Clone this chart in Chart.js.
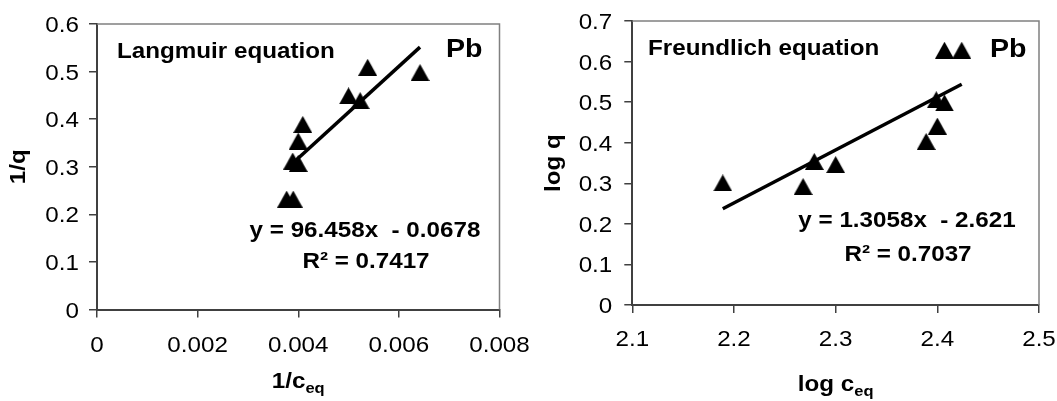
<!DOCTYPE html>
<html>
<head>
<meta charset="utf-8">
<script src="https://cdn.jsdelivr.net/npm/chart.js@4.4.0/dist/chart.umd.min.js"></script>
<style>
  body { margin: 0; background: #fff; }
  #wrap { position: relative; width: 1057px; height: 401px; }
  #langmuir { position: absolute; left: 0; top: 0; }
  #freundlich { position: absolute; left: 527px; top: 0; }
</style>
</head>
<body>
<div id="wrap">
  <canvas id="langmuir" width="545" height="401"></canvas>
  <canvas id="freundlich" width="530" height="401"></canvas>
</div>
<script>
// Langmuir plot (1/c_eq vs 1/q)
const langX = [0.00377, 0.0039, 0.00389, 0.0040, 0.0040, 0.00409, 0.0050, 0.00523, 0.00538, 0.00642];
const langY = [0.232, 0.232, 0.312, 0.307, 0.354, 0.389, 0.449, 0.439, 0.509, 0.498];
const langSlope = 96.458;
const langIntercept = -0.0678;
const langXTicks = [0, 0.002, 0.004, 0.006, 0.008];
const langXLabels = ['0', '0.002', '0.004', '0.006', '0.008'];
const langYTicks = [0, 0.1, 0.2, 0.3, 0.4, 0.5, 0.6];
const langYLabels = ['0', '0.1', '0.2', '0.3', '0.4', '0.5', '0.6'];

// Freundlich plot (log c_eq vs log q)
const freX = [2.189, 2.268, 2.279, 2.300, 2.389, 2.400, 2.399, 2.407, 2.407, 2.424];
const freY = [0.301, 0.292, 0.354, 0.346, 0.403, 0.441, 0.506, 0.498, 0.628, 0.628];
const freSlope = 1.3058;
const freIntercept = -2.621;
const freXTicks = [2.1, 2.2, 2.3, 2.4, 2.5];
const freXLabels = ['2.1', '2.2', '2.3', '2.4', '2.5'];
const freYTicks = [0, 0.1, 0.2, 0.3, 0.4, 0.5, 0.6, 0.7];
const freYLabels = ['0', '0.1', '0.2', '0.3', '0.4', '0.5', '0.6', '0.7'];

const FONT = "'Liberation Sans', Arial, sans-serif";
const STRETCH = 1.1;

// triangle marker centred on its bounding box, like the Excel one
const marker = document.createElement('canvas');
marker.width = 19;
marker.height = 17;
const mctx = marker.getContext('2d');
mctx.fillStyle = '#000';
mctx.beginPath();
mctx.moveTo(9.5, 0);
mctx.lineTo(19, 17);
mctx.lineTo(0, 17);
mctx.closePath();
mctx.fill();

function toPoints(xs, ys) {
  return xs.map((x, i) => ({ x: x, y: ys[i] }));
}

function trendLine(xs, slope, intercept) {
  const lo = Math.min(...xs), hi = Math.max(...xs);
  return [{ x: lo, y: slope * lo + intercept }, { x: hi, y: slope * hi + intercept }];
}

function drawText(ctx, str, x, y, size, align, weight) {
  ctx.save();
  ctx.font = (weight || 'bold') + ' ' + size + 'px ' + FONT;
  ctx.translate(x, y);
  ctx.scale(STRETCH, 1);
  ctx.textAlign = align;
  ctx.textBaseline = 'alphabetic';
  ctx.fillText(str, 0, 0);
  ctx.restore();
}

// main text plus smaller lowered subscript, centred on cx
function drawSubTitle(ctx, main, sub, cx, y) {
  ctx.save();
  ctx.font = 'bold 22px ' + FONT;
  const w1 = ctx.measureText(main).width * STRETCH;
  ctx.font = 'bold 15px ' + FONT;
  const w2 = ctx.measureText(sub).width * STRETCH;
  ctx.restore();
  const x0 = cx - (w1 + w2) / 2;
  drawText(ctx, main, x0, y, 22, 'left');
  drawText(ctx, sub, x0 + w1, y + 5, 15, 'left');
}

const textPlugin = {
  id: 'texts',
  afterDraw(chart, args, opts) {
    const ctx = chart.ctx, a = chart.chartArea;
    const sx = chart.scales.x, sy = chart.scales.y;
    ctx.save();
    ctx.strokeStyle = '#808080';
    ctx.lineWidth = 1.5;
    ctx.beginPath();
    ctx.moveTo(a.left, a.top);
    ctx.lineTo(a.right, a.top);
    ctx.lineTo(a.right, a.bottom);
    ctx.stroke();
    ctx.fillStyle = '#000';
    // tick labels
    opts.xTicks.forEach((v, i) => drawText(ctx, opts.xLabels[i], sx.getPixelForValue(v), a.bottom + opts.xLabelGap, 22, 'center', 'normal'));
    opts.yTicks.forEach((v, i) => drawText(ctx, opts.yLabels[i], a.left - opts.yLabelGap, sy.getPixelForValue(v) + 8, 22, 'right', 'normal'));
    opts.items.forEach(t => drawText(ctx, t.text, t.x, t.y, t.size, t.align));
    // rotated y title
    ctx.save();
    ctx.translate(opts.yTitle.x, (a.top + a.bottom) / 2);
    ctx.rotate(-Math.PI / 2);
    drawText(ctx, opts.yTitle.text, 0, 0, 22, 'center');
    ctx.restore();
    drawSubTitle(ctx, opts.xTitle.main, opts.xTitle.sub, (a.left + a.right) / 2, opts.xTitle.y);
    ctx.restore();
  }
};

function axis(ticks, min, max, isX, size) {
  return {
    type: 'linear',
    min: min,
    max: max,
    afterBuildTicks: s => { s.ticks = ticks.map(v => ({ value: v })); },
    afterFit: s => {
      if (isX) s.height = size; else s.width = size;
      s.paddingLeft = 0; s.paddingRight = 0; s.paddingTop = 0; s.paddingBottom = 0;
    },
    ticks: { display: false },
    grid: { display: true, drawOnChartArea: false, drawTicks: true, tickLength: 8, color: '#404040', lineWidth: 1.5 },
    border: { display: true, color: '#404040', width: 2 }
  };
}

function makeChart(id, xs, ys, slope, intercept, xAxis, yAxis, padding, texts) {
  return new Chart(document.getElementById(id).getContext('2d'), {
    type: 'scatter',
    data: {
      datasets: [{
        data: toPoints(xs, ys),
        pointStyle: marker,
        pointRadius: 10,
        pointHoverRadius: 10
      }, {
        type: 'line',
        data: trendLine(xs, slope, intercept),
        borderColor: '#000',
        borderWidth: 3.5,
        pointRadius: 0,
        fill: false
      }]
    },
    options: {
      responsive: false,
      devicePixelRatio: 1,
      animation: false,
      layout: { padding: padding },
      scales: { x: xAxis, y: yAxis },
      plugins: { legend: { display: false }, tooltip: { enabled: false }, texts: texts }
    },
    plugins: [textPlugin]
  });
}

makeChart('langmuir', langX, langY, langSlope, langIntercept,
  axis(langXTicks, 0, 0.008, true, 91.5),
  axis(langYTicks, 0, 0.6, false, 97),
  { left: 0, top: 24, right: 45.5, bottom: 0 },
  {
    xTicks: langXTicks, xLabels: langXLabels, yTicks: langYTicks, yLabels: langYLabels,
    xLabelGap: 42, yLabelGap: 18,
    items: [
      { text: 'Langmuir equation', x: 117, y: 58, size: 22, align: 'left' },
      { text: 'Pb', x: 446, y: 57, size: 26, align: 'left' },
      { text: 'y = 96.458x  - 0.0678', x: 365, y: 237, size: 22, align: 'center' },
      { text: 'R\u00B2 = 0.7417', x: 366, y: 268, size: 22, align: 'center' }
    ],
    yTitle: { text: '1/q', x: 25 },
    xTitle: { main: '1/c', sub: 'eq', y: 388 }
  });

makeChart('freundlich', freX, freY, freSlope, freIntercept,
  axis(freXTicks, 2.1, 2.5, true, 96),
  axis(freYTicks, 0, 0.7, false, 105.3),
  { left: 0, top: 21, right: 18, bottom: 0 },
  {
    xTicks: freXTicks, xLabels: freXLabels, yTicks: freYTicks, yLabels: freYLabels,
    xLabelGap: 41, yLabelGap: 20,
    items: [
      { text: 'Freundlich equation', x: 121, y: 55, size: 22, align: 'left' },
      { text: 'Pb', x: 463, y: 57, size: 26, align: 'left' },
      { text: 'y = 1.3058x  - 2.621', x: 380, y: 227, size: 22, align: 'center' },
      { text: 'R\u00B2 = 0.7037', x: 381, y: 261, size: 22, align: 'center' }
    ],
    yTitle: { text: 'log q', x: 33 },
    xTitle: { main: 'log c', sub: 'eq', y: 391 }
  });
</script>
</body>
</html>
